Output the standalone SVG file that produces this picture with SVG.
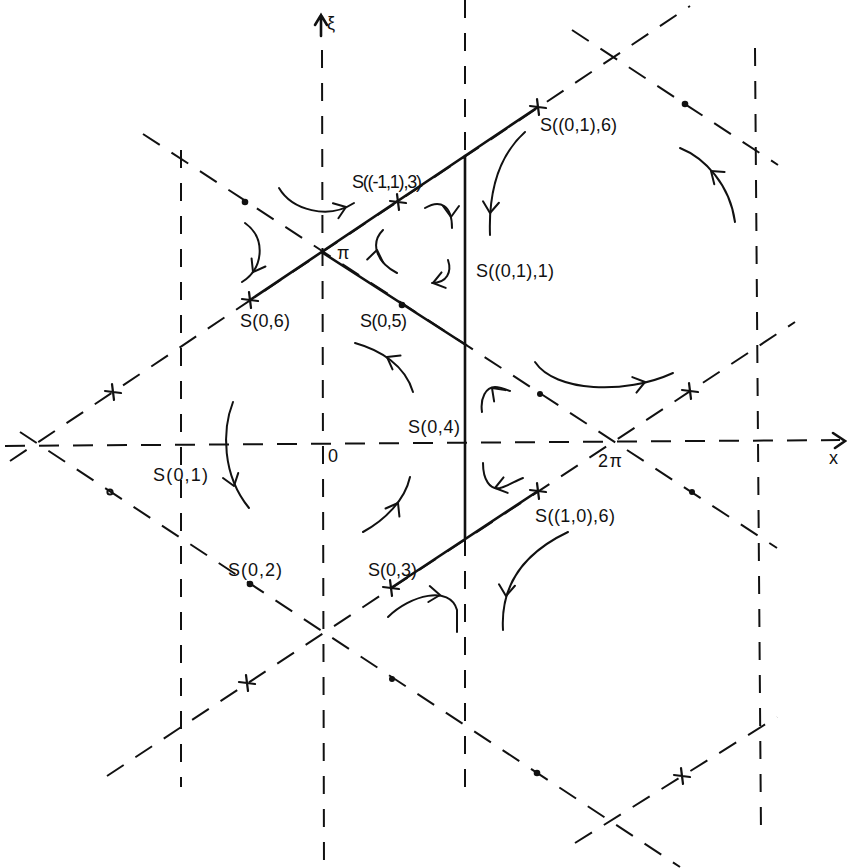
<svg xmlns="http://www.w3.org/2000/svg" xmlns:xlink="http://www.w3.org/1999/xlink" width="847" height="868" viewBox="0 0 847 868">
<style>
.dash{fill:none;stroke:#111;stroke-width:2;stroke-dasharray:20 14;stroke-linecap:butt}
.vd{fill:none;stroke:#111;stroke-width:2;stroke-dasharray:18 15}
.solid{fill:none;stroke:#111;stroke-width:2.6;stroke-linecap:round}
.flow{fill:none;stroke:#111;stroke-width:2;stroke-linecap:round}
.dot{fill:#111}
text{font-family:"Liberation Sans","DejaVu Sans",sans-serif;font-size:18px;fill:#111}
</style>
<defs>
<path id="ah" d="M-11,-8 L0,0 L-11,8" fill="none" stroke="#111" stroke-width="2" stroke-linecap="round" stroke-linejoin="round"/>
<path id="xm" d="M-1,-8 L1,8 M-8,-1 L8,1" fill="none" stroke="#111" stroke-width="2.2" stroke-linecap="round"/>
</defs>
<rect width="847" height="868" fill="#fff"/>

<g id="lattice">
<line class="vd" x1="181" y1="150" x2="181" y2="787"/>
<line class="vd" x1="322" y1="50" x2="324" y2="868"/>
<line class="vd" x1="465" y1="0" x2="465" y2="156"/>
<line class="vd" x1="465" y1="538" x2="465" y2="792"/>
<line class="vd" x1="755" y1="48" x2="761" y2="833"/>
<line class="dash" x1="5" y1="446" x2="840" y2="440"/>
<line class="dash" x1="10" y1="461" x2="690" y2="6"/>
<line class="dash" x1="20" y1="432" x2="680" y2="867"/>
<line class="dash" x1="143" y1="134" x2="777" y2="548"/>
<line class="dash" x1="107" y1="776" x2="795" y2="322"/>
<line class="dash" x1="575" y1="843" x2="777" y2="717"/>
<line class="dash" x1="572" y1="30" x2="778" y2="165"/>
</g>

<g id="axes">
<path class="solid" d="M321,15 L321,36 M315,25 L321,15 L327,25" stroke-width="2"/>
<path class="solid" d="M833,433 L845,441 L835,448" stroke-width="2.2"/>
<text x="327" y="29" font-size="23">ξ</text>
<text x="829" y="464">x</text>
<text x="328" y="462" font-size="15">0</text>
<text x="337" y="259" font-size="17">π</text>
<text x="598" y="467" font-size="17" textLength="24" lengthAdjust="spacing">2π</text>
</g>

<g id="connectors">
<line class="solid" x1="250" y1="300" x2="538" y2="107"/>
<line class="solid" x1="323" y1="253" x2="466" y2="345"/>
<line class="solid" x1="465" y1="156" x2="465" y2="538"/>
<line class="solid" x1="391" y1="588" x2="538" y2="491"/>

<path class="flow" d="M279,188 C292,210 328,220 354,203"/>
<use xlink:href="#ah" href="#ah" transform="translate(346,207) rotate(-20)"/>
<path class="flow" d="M245,223 C266,238 264,268 242,282"/>
<use xlink:href="#ah" href="#ah" transform="translate(253,272) rotate(120)"/>
<path class="flow" d="M397,273 C376,262 370,243 383,230"/>
<use xlink:href="#ah" href="#ah" transform="translate(377,250) rotate(-80)"/>
<path class="flow" d="M425,208 C440,199 452,205 452,228"/>
<use xlink:href="#ah" href="#ah" transform="translate(451,217) rotate(90)"/>
<path class="flow" d="M448,260 C452,272 447,283 432,283"/>
<use xlink:href="#ah" href="#ah" transform="translate(433,283) rotate(165)"/>
<path class="flow" d="M525,132 C505,150 488,180 490,235"/>
<use xlink:href="#ah" href="#ah" transform="translate(490,213) rotate(95)"/>
<path class="flow" d="M680,148 C705,158 730,185 735,222"/>
<use xlink:href="#ah" href="#ah" transform="translate(711,171) rotate(-140)"/>
<path class="flow" d="M233,402 C222,430 222,475 249,508"/>
<use xlink:href="#ah" href="#ah" transform="translate(234,486) rotate(72)"/>
<path class="flow" d="M355,343 C380,350 405,365 413,392"/>
<use xlink:href="#ah" href="#ah" transform="translate(387,357) rotate(-150)"/>
<path class="flow" d="M363,532 C385,520 405,500 410,477"/>
<use xlink:href="#ah" href="#ah" transform="translate(398,503) rotate(-60)"/>
<path class="flow" d="M482,412 C480,398 486,387 495,387 C500,387 505,389 510,391"/>
<use xlink:href="#ah" href="#ah" transform="translate(492,388) rotate(-135)"/>
<path class="flow" d="M483,463 C483,480 490,490 500,488 C508,486 515,481 523,478"/>
<use xlink:href="#ah" href="#ah" transform="translate(495,488) rotate(165)"/>
<path class="flow" d="M535,362 C555,392 625,395 673,373"/>
<use xlink:href="#ah" href="#ah" transform="translate(645,382) rotate(-15)"/>
<path class="flow" d="M568,532 C530,550 500,580 503,630"/>
<use xlink:href="#ah" href="#ah" transform="translate(506,596) rotate(95)"/>
<path class="flow" d="M388,617 C410,595 450,585 457,610 L457,632"/>
<use xlink:href="#ah" href="#ah" transform="translate(440,595) rotate(5)"/>
</g>

<g id="n-S06"><use xlink:href="#xm" href="#xm" transform="translate(250,300)"/><text x="240" y="327" textLength="50" lengthAdjust="spacing">S(0,6)</text></g>
<g id="n-S-113"><use xlink:href="#xm" href="#xm" transform="translate(398,202)"/><text x="352" y="188" textLength="70" lengthAdjust="spacing">S((-1,1),3)</text></g>
<g id="n-S016"><use xlink:href="#xm" href="#xm" transform="translate(538,107)"/><text x="540" y="131" textLength="77" lengthAdjust="spacing">S((0,1),6)</text></g>
<g id="n-S011"><text x="476" y="277" textLength="78" lengthAdjust="spacing">S((0,1),1)</text></g>
<g id="n-S05"><circle class="dot" cx="402" cy="305" r="3.3"/><text x="360" y="327" textLength="47" lengthAdjust="spacing">S(0,5)</text></g>
<g id="n-S04"><text x="408" y="433" textLength="52" lengthAdjust="spacing">S(0,4)</text></g>
<g id="n-S01"><text x="153" y="481" textLength="55" lengthAdjust="spacing">S(0,1)</text></g>
<g id="n-S02"><circle class="dot" cx="250" cy="584" r="3.3"/><text x="228" y="576" textLength="54" lengthAdjust="spacing">S(0,2)</text></g>
<g id="n-S03"><use xlink:href="#xm" href="#xm" transform="translate(391,588)"/><text x="368" y="576" textLength="49" lengthAdjust="spacing">S(0,3)</text></g>
<g id="n-S106"><use xlink:href="#xm" href="#xm" transform="translate(538,491)"/><text x="535" y="522" textLength="80" lengthAdjust="spacing">S((1,0),6)</text></g>

<g id="n-marks">
<use xlink:href="#xm" href="#xm" transform="translate(113,392)"/>
<use xlink:href="#xm" href="#xm" transform="translate(247,683)"/>
<use xlink:href="#xm" href="#xm" transform="translate(690,391)"/>
<use xlink:href="#xm" href="#xm" transform="translate(682,776)"/>
<circle class="dot" cx="245" cy="202" r="3.3"/>
<circle class="dot" cx="540" cy="394" r="3"/>
<circle class="dot" cx="692" cy="492" r="3"/>
<circle class="dot" cx="685" cy="104" r="3.3"/>
<circle cx="110" cy="492" r="2.6" fill="none" stroke="#111" stroke-width="2"/>
<circle class="dot" cx="392" cy="679" r="3"/>
<circle class="dot" cx="537" cy="773" r="3.3"/>
</g>
</svg>
